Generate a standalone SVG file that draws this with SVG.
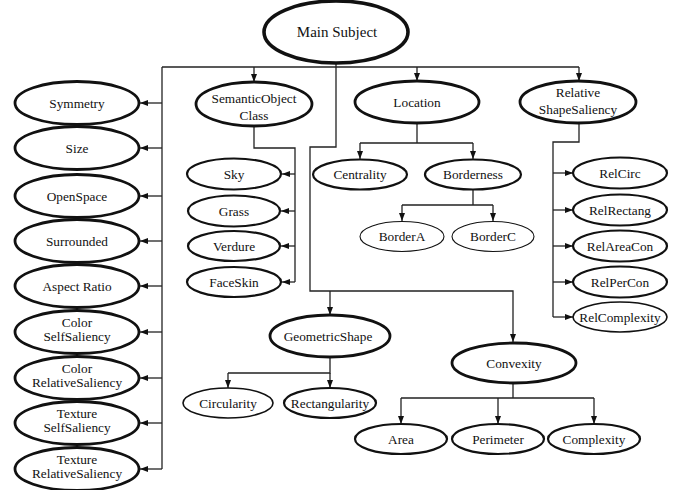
<svg xmlns="http://www.w3.org/2000/svg" width="683" height="490" viewBox="0 0 683 490">
<style>
text{font-family:"Liberation Serif","Times New Roman",Times,serif;font-size:13.3px;fill:#111;text-anchor:middle}
.big{font-size:15px}
ellipse{fill:#fff;stroke:#111}
.b4{stroke-width:3.6}
.b3{stroke-width:2.8}
.b2{stroke-width:2.2}
.b1{stroke-width:1.1}
.c{fill:none;stroke:#222;stroke-width:1.3}
.a{fill:none;stroke:#222;stroke-width:1.3;marker-end:url(#ah)}
</style>
<defs>
<marker id="ah" markerUnits="userSpaceOnUse" markerWidth="8" markerHeight="6" refX="8" refY="3" orient="auto">
<path d="M0,0 L8,3 L0,6 z" fill="#111"/>
</marker>
</defs>
<rect width="683" height="490" fill="#fff"/>
<g id="connectors">
<path class="c" d="M336,0 V2"/>
<path class="c" d="M162,67 H579"/>
<path class="c" d="M162,67 V469"/>
<path class="a" d="M162,103 H140"/>
<path class="a" d="M162,148 H140"/>
<path class="a" d="M162,196 H140"/>
<path class="a" d="M162,241 H140"/>
<path class="a" d="M162,286 H140"/>
<path class="a" d="M162,332 H140"/>
<path class="a" d="M162,378 H140"/>
<path class="a" d="M162,423 H140"/>
<path class="a" d="M162,469 H140"/>
<path class="a" d="M254,67 V82"/>
<path class="a" d="M417,67 V81"/>
<path class="a" d="M579,67 V81"/>
<path class="a" d="M336,63 V147 H310 V291 H513 V342"/>
<path class="a" d="M330,291 V315"/>
<path class="c" d="M254,126 V148 H295 V282"/>
<path class="a" d="M295,174 H282"/>
<path class="a" d="M295,211 H281"/>
<path class="a" d="M295,246 H281"/>
<path class="a" d="M295,282 H282"/>
<path class="c" d="M417,123 V143 M360,143 H473"/>
<path class="a" d="M360,143 V159"/>
<path class="a" d="M473,143 V159"/>
<path class="c" d="M473,190 V205 M402,205 H493"/>
<path class="a" d="M402,205 V221"/>
<path class="a" d="M493,205 V221"/>
<path class="c" d="M579,123 V142 H553 V317"/>
<path class="a" d="M553,173 H573"/>
<path class="a" d="M553,210 H573"/>
<path class="a" d="M553,246 H573"/>
<path class="a" d="M553,282 H573"/>
<path class="a" d="M553,317 H573"/>
<path class="c" d="M330,357 V373 H228"/>
<path class="a" d="M228,373 V388"/>
<path class="a" d="M330,373 V388"/>
<path class="c" d="M513,383 V398 M401,398 H594"/>
<path class="a" d="M401,398 V424"/>
<path class="a" d="M498,398 V424"/>
<path class="a" d="M594,398 V424"/>
</g>
<g id="main"><ellipse class="b4" cx="336" cy="32" rx="72" ry="31"/><text class="big" x="337" y="37">Main Subject</text></g>
<g id="symmetry"><ellipse class="b3" cx="77" cy="103" rx="62" ry="21.5"/><text x="77" y="107.5">Symmetry</text></g>
<g id="size"><ellipse class="b3" cx="77" cy="148" rx="62" ry="21.5"/><text x="77" y="152.5">Size</text></g>
<g id="openspace"><ellipse class="b3" cx="77" cy="196" rx="62" ry="21.5"/><text x="77" y="200.5">OpenSpace</text></g>
<g id="surrounded"><ellipse class="b3" cx="77" cy="241" rx="62" ry="21.5"/><text x="77" y="245.5">Surrounded</text></g>
<g id="aspect"><ellipse class="b3" cx="77" cy="286" rx="62" ry="21.5"/><text x="77" y="290.5">Aspect Ratio</text></g>
<g id="colorself"><ellipse class="b3" cx="77" cy="332" rx="62" ry="21.5"/><text x="77" y="326.5">Color</text><text x="77" y="341">SelfSaliency</text></g>
<g id="colorrel"><ellipse class="b3" cx="77" cy="378" rx="62" ry="21.5"/><text x="77" y="372.5">Color</text><text x="77" y="387">RelativeSaliency</text></g>
<g id="textureself"><ellipse class="b3" cx="77" cy="423" rx="62" ry="21.5"/><text x="77" y="417.5">Texture</text><text x="77" y="432">SelfSaliency</text></g>
<g id="texturerel"><ellipse class="b3" cx="77" cy="469" rx="62" ry="21.5"/><text x="77" y="463.5">Texture</text><text x="77" y="478">RelativeSaliency</text></g>
<g id="semantic"><ellipse class="b3" cx="254" cy="104" rx="58" ry="22"/><text x="254" y="102.5">SemanticObject</text><text x="254" y="119.5">Class</text></g>
<g id="location"><ellipse class="b3" cx="417" cy="102" rx="62" ry="21"/><text x="417" y="106.5">Location</text></g>
<g id="relative"><ellipse class="b3" cx="578" cy="102" rx="58" ry="21"/><text x="578" y="96.5">Relative</text><text x="578" y="113.5">ShapeSaliency</text></g>
<g id="sky"><ellipse class="b2" cx="234" cy="174" rx="47" ry="15.5"/><text x="234" y="178.5">Sky</text></g>
<g id="grass"><ellipse class="b2" cx="234" cy="211" rx="46" ry="15.5"/><text x="234" y="215.5">Grass</text></g>
<g id="verdure"><ellipse class="b2" cx="234" cy="246" rx="46" ry="15"/><text x="234" y="250.5">Verdure</text></g>
<g id="faceskin"><ellipse class="b2" cx="234" cy="282" rx="47" ry="15"/><text x="234" y="286.5">FaceSkin</text></g>
<g id="centrality"><ellipse class="b2" cx="360" cy="174.5" rx="47" ry="15"/><text x="360" y="179">Centrality</text></g>
<g id="borderness"><ellipse class="b2" cx="473" cy="174.5" rx="48" ry="15"/><text x="473" y="179">Borderness</text></g>
<g id="bordera"><ellipse class="b1" cx="402" cy="236.5" rx="42" ry="15"/><text x="402" y="241">BorderA</text></g>
<g id="borderc"><ellipse class="b1" cx="493" cy="236.5" rx="41" ry="15"/><text x="493" y="241">BorderC</text></g>
<g id="relcirc"><ellipse class="b2" cx="620" cy="173" rx="47" ry="15.5"/><text x="620" y="177.5">RelCirc</text></g>
<g id="relrectang"><ellipse class="b2" cx="620" cy="210" rx="47" ry="15.5"/><text x="620" y="214.5">RelRectang</text></g>
<g id="relareacon"><ellipse class="b2" cx="620" cy="246" rx="47" ry="15.5"/><text x="620" y="250.5">RelAreaCon</text></g>
<g id="relpercon"><ellipse class="b2" cx="620" cy="282" rx="47" ry="15.5"/><text x="620" y="286.5">RelPerCon</text></g>
<g id="relcomplexity"><ellipse class="b1" style="stroke-width:1.6" cx="620" cy="317" rx="47" ry="15"/><text x="620" y="321.5">RelComplexity</text></g>
<g id="geometric"><ellipse class="b3" cx="330" cy="336" rx="60" ry="21"/><text x="328" y="340.5">GeometricShape</text></g>
<g id="circularity"><ellipse class="b1" style="stroke-width:1.6" cx="228" cy="403" rx="45" ry="15"/><text x="228" y="407.5">Circularity</text></g>
<g id="rectangularity"><ellipse class="b2" cx="330" cy="403" rx="46" ry="15"/><text x="330" y="407.5">Rectangularity</text></g>
<g id="convexity"><ellipse class="b3" cx="514" cy="363" rx="62" ry="20"/><text x="514" y="367.5">Convexity</text></g>
<g id="area"><ellipse class="b2" cx="401" cy="439" rx="46" ry="15"/><text x="401" y="443.5">Area</text></g>
<g id="perimeter"><ellipse class="b2" cx="498" cy="439" rx="46" ry="15"/><text x="498" y="443.5">Perimeter</text></g>
<g id="complexity"><ellipse class="b2" cx="594" cy="439" rx="46" ry="15"/><text x="594" y="443.5">Complexity</text></g>
</svg>
